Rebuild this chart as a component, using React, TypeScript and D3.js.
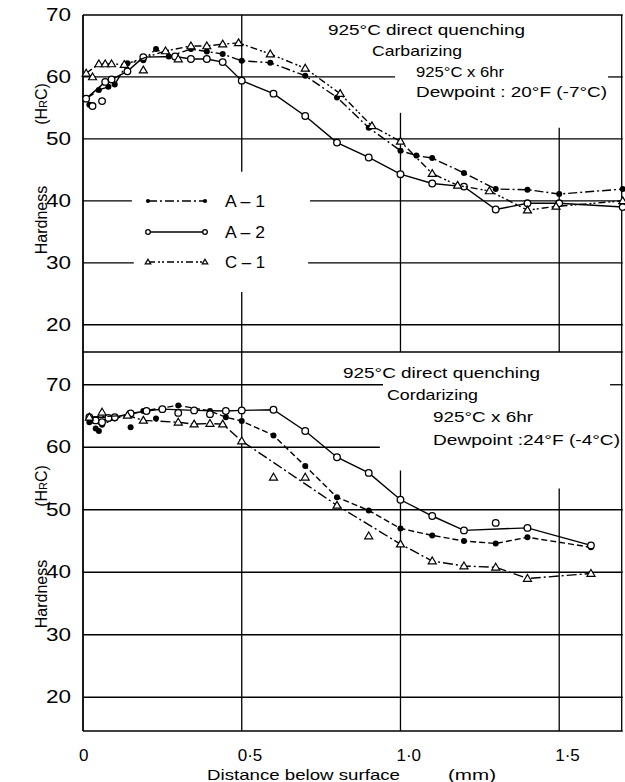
import React from "react";
import * as d3 from "d3";

type Pt = [number, number];

const xTicks = [0, 0.5, 1.0, 1.5];
const xTickLabels = ["0", "0·5", "1·0", "1·5"];
const yTicks = [20, 30, 40, 50, 60, 70];

// upper panel, dewpoint 20F
const topA1: Pt[] = [
  [0.01, 56.5], [0.05, 57.9], [0.08, 58.4], [0.1, 58.8], [0.14, 62.2], [0.19, 62.7],
  [0.23, 64.5], [0.27, 63.3], [0.34, 64.5], [0.39, 64.1], [0.44, 63.7], [0.5, 62.6],
  [0.59, 62.3], [0.7, 60.2], [0.8, 56.7], [0.9, 51.8], [1.0, 48.1], [1.05, 47.3],
  [1.1, 46.9], [1.2, 44.5], [1.3, 41.9], [1.4, 41.8], [1.5, 41.1], [1.7, 41.9],
];
const topA1Extra: Pt[] = [[0.02, 55.5]];
const topA2: Pt[] = [
  [0.01, 56.5], [0.07, 59.2], [0.09, 59.6], [0.14, 60.9], [0.19, 63.2], [0.29, 63.3],
  [0.34, 62.9], [0.39, 62.9], [0.44, 62.4], [0.5, 59.4], [0.6, 57.3], [0.7, 53.7],
  [0.8, 49.4], [0.9, 47.0], [1.0, 44.3], [1.1, 42.8], [1.2, 42.3], [1.3, 38.6],
  [1.4, 39.6], [1.5, 39.6], [1.7, 39.0],
];
const topA2Extra: Pt[] = [[0.03, 55.3], [0.06, 56.1]];
const topC1: Pt[] = [
  [0.01, 60.6], [0.05, 62.1], [0.07, 62.1], [0.09, 62.1], [0.13, 62.0], [0.26, 64.2],
  [0.34, 65.0], [0.39, 65.0], [0.44, 65.3], [0.49, 65.5], [0.59, 63.7], [0.7, 61.4],
  [0.81, 57.3], [0.91, 52.1], [1.0, 49.6], [1.1, 44.4], [1.18, 42.5], [1.28, 41.6],
  [1.4, 38.5], [1.49, 39.1], [1.7, 40.0],
];
const topC1Extra: Pt[] = [[0.03, 60.0], [0.19, 61.1], [0.3, 62.9]];

// lower panel, dewpoint 24F
const lowA1: Pt[] = [
  [0.02, 64.0], [0.06, 63.6], [0.1, 64.6], [0.19, 65.8], [0.3, 66.7], [0.4, 65.8],
  [0.45, 64.8], [0.5, 64.2], [0.6, 61.9], [0.7, 57.0], [0.8, 52.0], [0.9, 49.9],
  [1.0, 47.0], [1.1, 45.9], [1.2, 45.0], [1.3, 44.6], [1.4, 45.6], [1.6, 44.0],
];
const lowA1Extra: Pt[] = [[0.04, 63.0], [0.05, 62.6], [0.15, 63.2], [0.23, 64.6]];
const lowA2: Pt[] = [
  [0.02, 64.8], [0.1, 64.8], [0.15, 65.4], [0.2, 65.8], [0.25, 66.1], [0.35, 65.9],
  [0.45, 65.8], [0.5, 65.9], [0.6, 66.0], [0.7, 62.6], [0.8, 58.4], [0.9, 55.9],
  [1.0, 51.6], [1.1, 49.0], [1.2, 46.7], [1.4, 47.1], [1.6, 44.3],
];
const lowA2Extra: Pt[] = [[0.04, 64.3], [0.06, 64.0], [0.08, 64.7], [0.3, 65.5], [0.4, 65.3], [1.3, 47.9]];
const lowC1: Pt[] = [
  [0.02, 64.8], [0.14, 65.1], [0.19, 64.3], [0.3, 64.0], [0.35, 63.7], [0.4, 63.8],
  [0.44, 63.7], [0.5, 61.0], [0.8, 50.7], [1.0, 44.5], [1.1, 41.8], [1.2, 41.0],
  [1.3, 40.8], [1.4, 39.0], [1.6, 39.8],
];
const lowC1Extra: Pt[] = [[0.06, 65.6], [0.6, 55.2], [0.7, 55.2], [0.9, 45.8]];

const legendLabels = ["A – 1", "A – 2", "C – 1"];
const topNotes = ["925°C  direct quenching", "Carbarizing", "925°C x 6hr", "Dewpoint : 20°F (-7°C)"];
const lowNotes = ["925°C  direct quenching", "Cordarizing", "925°C x 6hr", "Dewpoint :24°F (-4°C)"];

const W = 625;
const H = 782;
const x = d3.scaleLinear().domain([0, 1.7]).range([83, 622.7]);
const yTop = d3.scaleLinear().domain([15.6, 70]).range([352, 15]);
const yLow = d3.scaleLinear().domain([14.6, 75.4]).range([731, 351]);

const font = "'Liberation Sans', Arial, sans-serif";

function Marker({ kind, cx, cy, s = 1 }: { kind: string; cx: number; cy: number; s?: number }) {
  if (kind === "dot") return <circle cx={cx} cy={cy} r={3 * s} fill="#000" />;
  if (kind === "circle")
    return <circle cx={cx} cy={cy} r={3.3 * s} fill="#fff" stroke="#000" strokeWidth={1.3} />;
  const a = 4 * s;
  return (
    <path
      d={`M${cx},${cy - a}L${cx + a},${cy + a * 0.7}L${cx - a},${cy + a * 0.7}Z`}
      fill="#fff"
      stroke="#000"
      strokeWidth={1.2}
    />
  );
}

function Series({ pts, extra, y, dash, kind }: { pts: Pt[]; extra: Pt[]; y: any; dash: string; kind: string }) {
  const line = d3.line<Pt>().x((d) => x(d[0])).y((d) => y(d[1]));
  return (
    <g>
      <path d={line(pts) || ""} fill="none" stroke="#000" strokeWidth={1.4} strokeDasharray={dash} />
      {pts.concat(extra).map((d, i) => (
        <Marker key={i} kind={kind} cx={x(d[0])} cy={y(d[1])} />
      ))}
    </g>
  );
}

// grid segments given in data units: [value, from, to]
const topH: [number, number, number][] = [
  [60, 0, 0.983], [60, 1.654, 1.7], [50, 0, 1.7], [40, 0, 0.154], [40, 0.715, 1.7],
  [30, 0, 0.16], [30, 0.709, 1.7], [20, 0, 1.7],
];
const topV: [number, number, number][] = [
  [0.5, 44.7, 70], [0.5, 15.6, 25.3], [1.0, 15.6, 54.2], [1.5, 15.6, 51.8],
];
const lowH: [number, number, number][] = [
  [70, 0, 0.945], [70, 1.66, 1.7], [60, 0, 0.935], [50, 0, 1.7], [40, 0, 1.7],
  [30, 0, 1.7], [20, 0, 1.7],
];
const lowV: [number, number, number][] = [
  [0.5, 14.6, 75.4], [1.0, 14.6, 56.3], [1.5, 14.6, 53.4],
];

function Notes({ lines, xs, ys, lens }: { lines: string[]; xs: number[]; ys: number[]; lens: number[] }) {
  return (
    <g fontFamily={font} fontSize={15} fill="#000">
      {lines.map((t, i) => (
        <text key={i} x={xs[i]} y={ys[i]} textLength={lens[i]} lengthAdjust="spacingAndGlyphs">
          {t}
        </text>
      ))}
    </g>
  );
}

function YTitle({ cy1, cy2 }: { cy1: number; cy2: number }) {
  return (
    <g fontFamily={font} fontSize={16} fill="#000">
      <text transform={`translate(47,${cy1}) rotate(-90)`} textAnchor="middle">
        (H<tspan fontSize={11}>R</tspan>C)
      </text>
      <text transform={`translate(47,${cy2}) rotate(-90)`} textAnchor="middle">
        Hardness
      </text>
    </g>
  );
}

export default function App() {
  const legendY = [201, 232, 262];
  const legendKinds = ["dot", "circle", "tri"];
  const legendDash = ["9,3,2,3", "", "7,3,2,2,2,3"];
  return (
    <svg width={W} height={H} style={{ position: "absolute", left: 0, top: 0, background: "#fff" }}>
      <rect width={W} height={H} fill="#fff" />
      <g stroke="#000" strokeWidth={1.3}>
        {topH.map(([v, a, b], i) => (
          <line key={"th" + i} x1={x(a)} x2={x(b)} y1={yTop(v)} y2={yTop(v)} />
        ))}
        {topV.map(([d, a, b], i) => (
          <line key={"tv" + i} x1={x(d)} x2={x(d)} y1={yTop(a)} y2={yTop(b)} />
        ))}
        {lowH.map(([v, a, b], i) => (
          <line key={"lh" + i} x1={x(a)} x2={x(b)} y1={yLow(v)} y2={yLow(v)} />
        ))}
        {lowV.map(([d, a, b], i) => (
          <line key={"lv" + i} x1={x(d)} x2={x(d)} y1={yLow(a)} y2={yLow(b)} />
        ))}
        <line x1={x(0)} x2={x(1.7)} y1={yTop(70)} y2={yTop(70)} strokeWidth={1.6} />
        <line x1={x(0)} x2={x(1.7)} y1={yTop(15.6)} y2={yTop(15.6)} strokeWidth={1.6} />
        <line x1={x(0)} x2={x(1.7)} y1={yLow(14.6)} y2={yLow(14.6)} strokeWidth={1.6} />
        <line x1={x(0)} x2={x(0)} y1={yTop(70)} y2={yLow(14.6)} strokeWidth={1.8} />
        <line x1={x(1.7) - 1} x2={x(1.7) - 1} y1={yTop(70)} y2={yLow(14.6)} strokeWidth={1.3} />
      </g>

      <Series pts={topA1} extra={topA1Extra} y={yTop} dash="9,3,2,3" kind="dot" />
      <Series pts={topA2} extra={topA2Extra} y={yTop} dash="" kind="circle" />
      <Series pts={topC1} extra={topC1Extra} y={yTop} dash="7,3,2,2,2,3" kind="tri" />

      <Series pts={lowA1} extra={lowA1Extra} y={yLow} dash="6,3" kind="dot" />
      <Series pts={lowA2} extra={lowA2Extra} y={yLow} dash="" kind="circle" />
      <Series pts={lowC1} extra={lowC1Extra} y={yLow} dash="10,3,2,3" kind="tri" />

      {legendLabels.map((t, i) => (
        <g key={t}>
          <line x1={148} x2={205} y1={legendY[i]} y2={legendY[i]} stroke="#000" strokeWidth={1.3} strokeDasharray={legendDash[i]} />
          <Marker kind={legendKinds[i]} cx={148} cy={legendY[i]} s={0.7} />
          <Marker kind={legendKinds[i]} cx={205} cy={legendY[i]} s={0.7} />
          <text x={225} y={legendY[i] + 6} fontFamily={font} fontSize={17} textLength={40} lengthAdjust="spacingAndGlyphs">
            {t}
          </text>
        </g>
      ))}

      <Notes lines={topNotes} xs={[328, 372, 416, 416]} ys={[35, 56, 77, 97]} lens={[197, 90, 88, 191]} />
      <Notes lines={lowNotes} xs={[343, 387, 433, 433]} ys={[378, 400, 422, 445]} lens={[197, 91, 100, 187]} />

      <g fontFamily={font} fontSize={18} fill="#000">
        {yTicks.map((t) => (
          <text key={"t" + t} x={71} y={yTop(t)} textAnchor="end" dominantBaseline="central" textLength={25} lengthAdjust="spacingAndGlyphs">
            {t}
          </text>
        ))}
        {yTicks.map((t) => (
          <text key={"l" + t} x={71} y={yLow(t)} textAnchor="end" dominantBaseline="central" textLength={25} lengthAdjust="spacingAndGlyphs">
            {t}
          </text>
        ))}
      </g>
      <g fontFamily={font} fontSize={17} fill="#000">
        {xTicks.map((t, i) => (
          <text key={"x" + t} x={x(t) - 4} y={761}>
            {xTickLabels[i]}
          </text>
        ))}
      </g>

      <g fontFamily={font} fontSize={15} fill="#000">
        <text x={207} y={780} textLength={193} lengthAdjust="spacingAndGlyphs">
          Distance below surface
        </text>
        <text x={448} y={780} textLength={48} lengthAdjust="spacingAndGlyphs">
          (mm)
        </text>
      </g>

      <YTitle cy1={104} cy2={220} />
      <YTitle cy1={486} cy2={594} />
    </svg>
  );
}
